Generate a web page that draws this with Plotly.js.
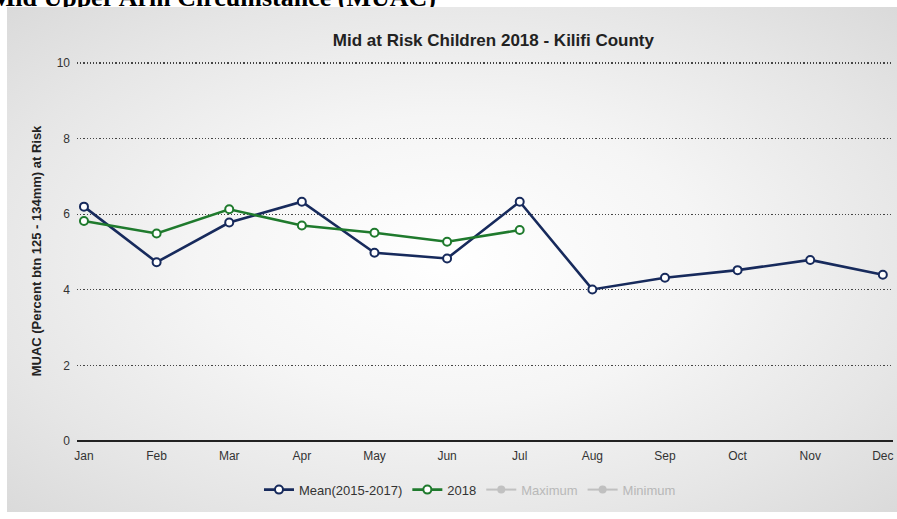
<!DOCTYPE html>
<html>
<head>
<meta charset="utf-8">
<script src="https://cdn.plot.ly/plotly-3.0.1.min.js"></script>
<style>
  html, body { margin: 0; padding: 0; background: #ffffff; width: 897px; height: 519px; overflow: hidden; }
  #header { position: absolute; left: 0; top: 0; width: 897px; height: 7px; overflow: hidden; }
  #header span { position: absolute; top: -15px; right: 461px; white-space: nowrap;
    font-family: "Liberation Serif", "DejaVu Serif", serif; font-weight: bold; font-size: 26px; line-height: 26px; color: #000; }
  #chart { position: absolute; left: 7px; top: 7px; width: 890px; height: 505px;
    background: radial-gradient(ellipse at 50% 50%, #ffffff 0%, #f5f5f5 40%, #e6e6e6 75%, #dadada 100%); }
</style>
</head>
<body>
<div id="header"><span>Mid Upper Arm Circumstance (MUAC)</span></div>
<div id="chart"></div>
<script>
const months = ['Jan','Feb','Mar','Apr','May','Jun','Jul','Aug','Sep','Oct','Nov','Dec'];
const meanValues = [6.20, 4.73, 5.78, 6.33, 4.98, 4.83, 6.33, 4.01, 4.32, 4.52, 4.79, 4.40];
const months2018 = ['Jan','Feb','Mar','Apr','May','Jun','Jul'];
const values2018 = [5.82, 5.49, 6.13, 5.70, 5.51, 5.27, 5.58];
// Maximum / Minimum series are hidden in the reference (legend only)
const maxValues = [null];
const minValues = [null];
const yTicks = [0, 2, 4, 6, 8, 10];

const navy = '#172a5c';
const green = '#1f7a2d';

const traces = [
  {
    x: months, y: meanValues, name: 'Mean(2015-2017)', type: 'scatter', mode: 'lines+markers',
    line: {color: navy, width: 2.6},
    marker: {symbol: 'circle', size: 8, color: '#ffffff', line: {color: navy, width: 2}},
    cliponaxis: false
  },
  {
    x: months2018, y: values2018, name: '2018', type: 'scatter', mode: 'lines+markers',
    line: {color: green, width: 2.6},
    marker: {symbol: 'circle', size: 8, color: '#ffffff', line: {color: green, width: 2}},
    cliponaxis: false
  },
  {
    x: [months[0]], y: maxValues, name: '<span style="color:#888">Maximum</span>', type: 'scatter', mode: 'lines+markers',
    visible: 'legendonly',
    line: {color: '#999', width: 2}, marker: {symbol: 'circle', size: 8, color: '#999'}
  },
  {
    x: [months[0]], y: minValues, name: '<span style="color:#888">Minimum</span>', type: 'scatter', mode: 'lines+markers',
    visible: 'legendonly',
    line: {color: '#999', width: 2}, marker: {symbol: 'circle', size: 8, color: '#999'}
  }
];

const layout = {
  width: 890, height: 505,
  paper_bgcolor: 'rgba(0,0,0,0)', plot_bgcolor: 'rgba(0,0,0,0)',
  margin: {l: 70, r: 4, t: 54, b: 71},
  font: {family: 'Liberation Sans, Arial, sans-serif', color: '#333'},
  title: {
    text: 'Mid at Risk Children 2018 - Kilifi County',
    font: {size: 17, color: '#222', family: 'Liberation Sans, Arial, sans-serif', weight: 'bold'},
    x: 0.5465, xanchor: 'center', xref: 'container',
    y: 1 - 33/505, yanchor: 'middle', yref: 'container'
  },
  xaxis: {
    type: 'category', categoryorder: 'array', categoryarray: months,
    range: [-0.096, 11.14],
    showgrid: false, zeroline: false, showline: false,
    ticks: '', ticklabelstandoff: 6, tickfont: {size: 12, color: '#333'},
    fixedrange: true
  },
  yaxis: {
    range: [0, 10.053], tickvals: yTicks, ticktext: yTicks.map(String),
    showgrid: true, gridcolor: '#444', gridwidth: 1.2, griddash: '1.2px,2px',
    zeroline: true, zerolinecolor: '#222', zerolinewidth: 1.6,
    showline: false, ticks: '', ticklabelstandoff: 6,
    tickfont: {size: 12, color: '#333'},
    title: {text: 'MUAC (Percent btn 125 - 134mm) at Risk', font: {size: 13, color: '#222', weight: 'bold'}, standoff: 12},
    fixedrange: true
  },
  legend: {
    orientation: 'h', x: 0.4816, xanchor: 'center', y: -0.128, yanchor: 'middle',
    font: {size: 13, color: '#333'}, bgcolor: 'rgba(0,0,0,0)'
  },
  showlegend: true
};

Plotly.newPlot('chart', traces, layout, {displayModeBar: false, staticPlot: true});
</script>
</body>
</html>
